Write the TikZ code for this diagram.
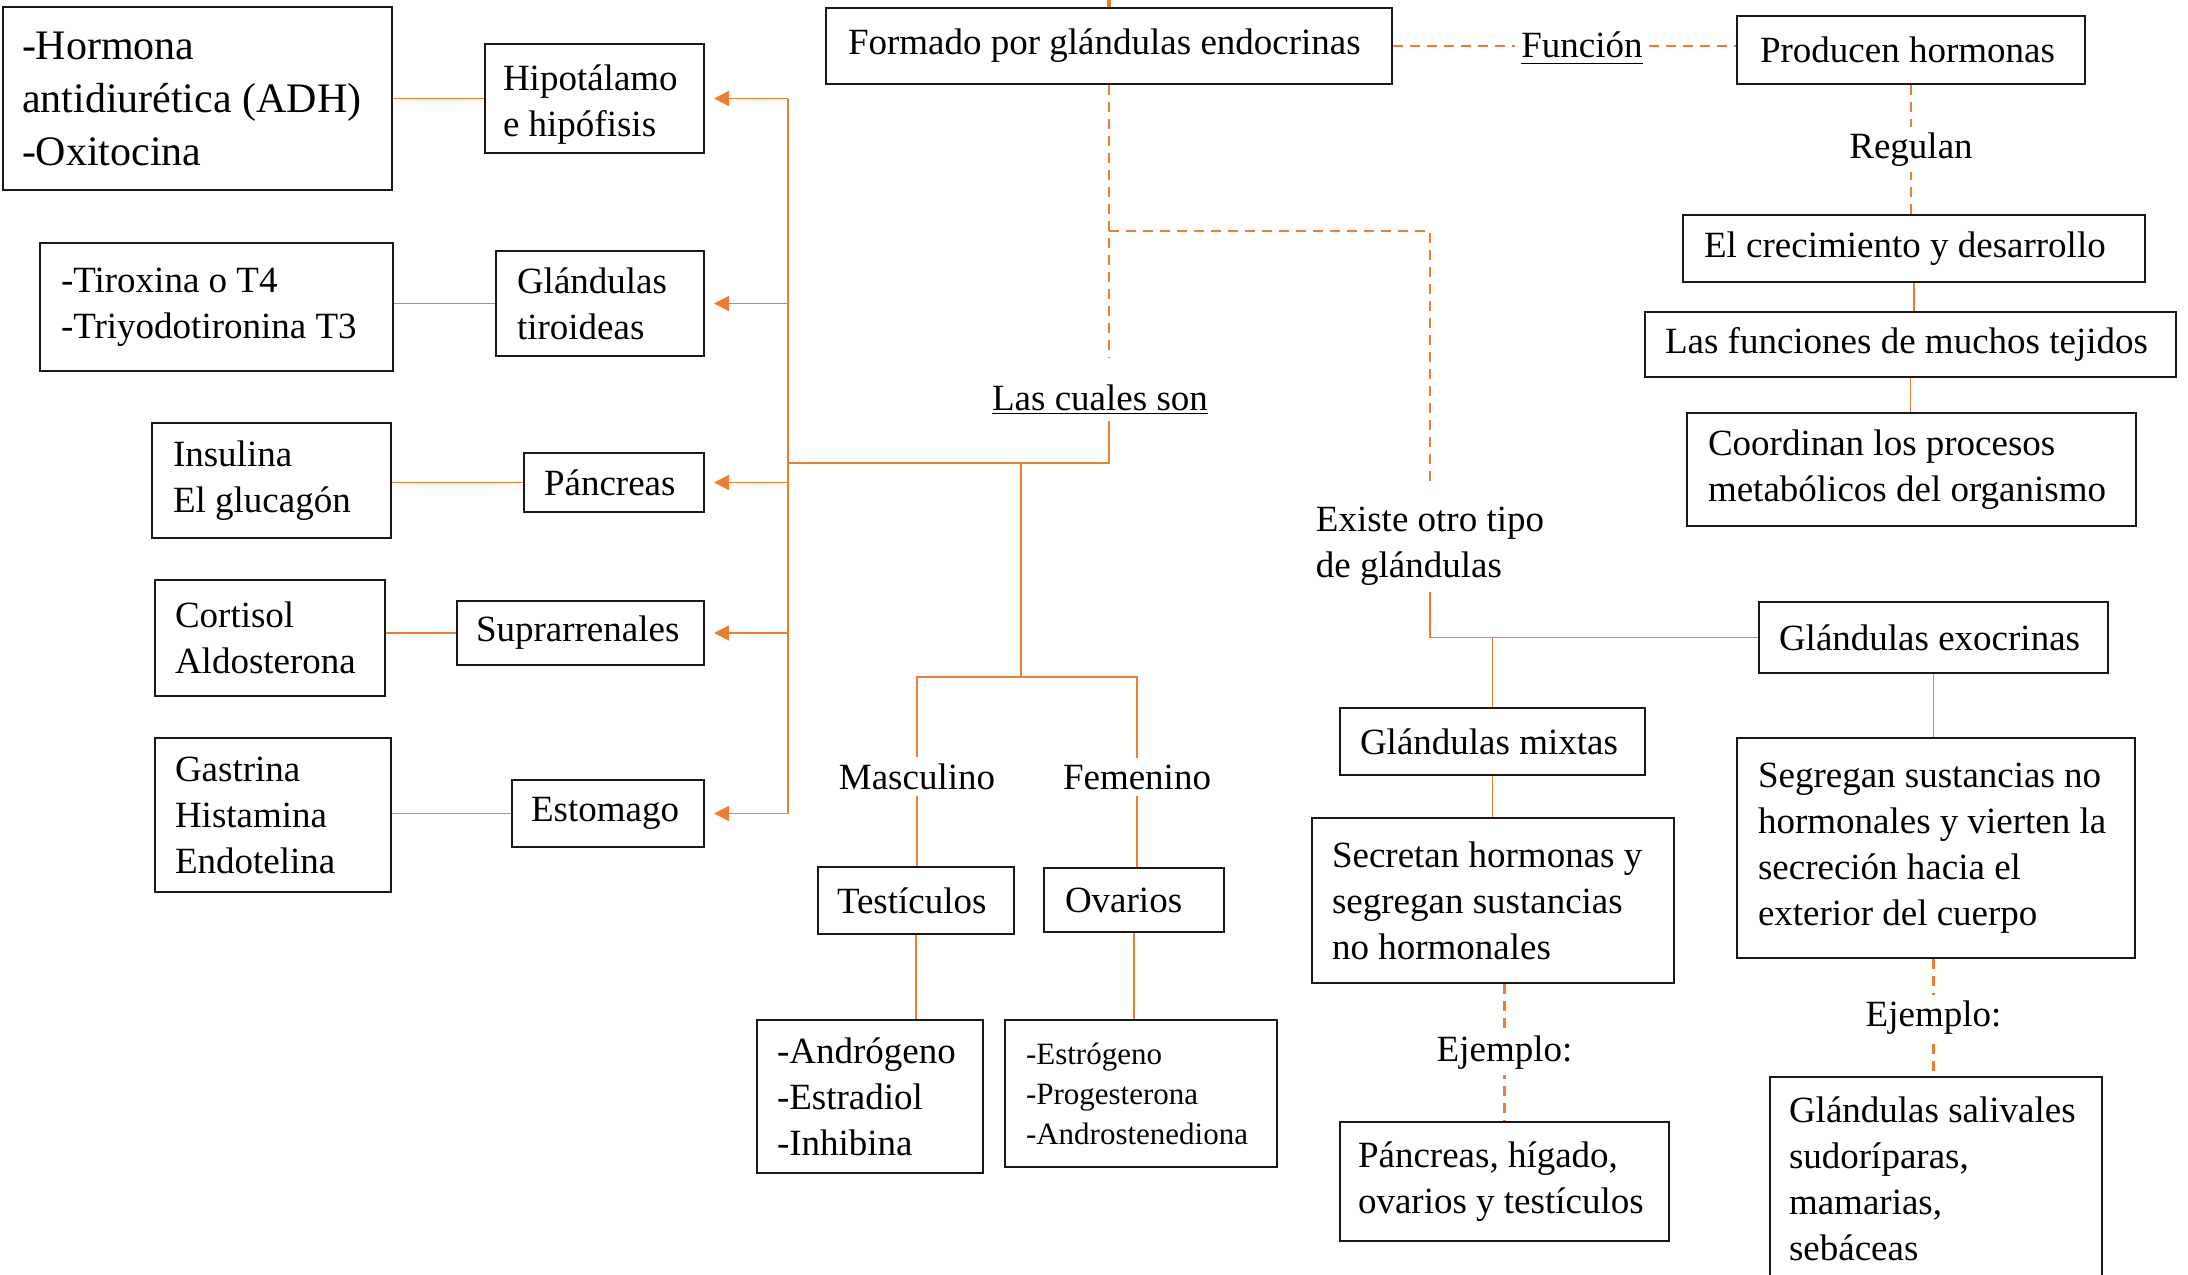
\documentclass[tikz,border=0pt]{standalone}
\usepackage{fontspec}
\setmainfont{Liberation Serif}
\usetikzlibrary{arrows.meta}
\definecolor{lineor}{RGB}{237,125,49}
\definecolor{boxln}{RGB}{25,25,25}
\newcommand\subray[1]{\underline{\raisebox{0pt}[\height][2pt]{#1}}}
\begin{document}
\begin{tikzpicture}[x=0.5pt,y=-0.5pt,
  txt/.style={font=\fontsize{18.5}{23}\selectfont, inner sep=3pt},
  gbox/.style n args={3}{txt, draw=boxln, line width=1pt, anchor=north west, align=flush left,
    inner xsep=#1, inner ysep=0pt, text width=#2, minimum height=#3},
  conn/.style={color=lineor, line width=0.75pt},
  dconn/.style={color=lineor, line width=1.1pt, dash pattern=on 5pt off 3.5pt},
  aconn/.style={conn, -{Triangle[length=7.5pt,width=7.5pt]}},
  lbl/.style={txt, fill=white, text=black}]
\useasboundingbox (0,0) rectangle (2188,1274);
% left column
\node[gbox={9.5pt}{175.5pt}{91.5pt}, font=\fontsize{21}{26.5}\selectfont] (adh) at (2,6) {-Hormona\\antidiurética (ADH)\\-Oxitocina};
\node[gbox={9pt}{91.5pt}{54.5pt}, text depth=21pt] (hipo) at (484,43) {Hipotálamo\\e hipófisis};
\node[gbox={10.5pt}{155.5pt}{64pt}] (tiro) at (39,242) {-Tiroxina o T4\\-Triyodotironina T3};
\node[gbox={10.5pt}{83pt}{52.5pt}] (tiroideas) at (495,250) {Glándulas\\tiroideas};
\node[gbox={10.5pt}{98.5pt}{57.5pt}] (insul) at (151,422) {Insulina\\El glucagón};
\node[gbox={10pt}{70pt}{29.5pt}] (panc) at (523,452) {Páncreas};
\node[gbox={10pt}{95pt}{58pt}] (cort) at (154,579) {Cortisol\\Aldosterona};
\node[gbox={9.5pt}{104.5pt}{32pt}] (supra) at (456,600) {Suprarrenales};
\node[gbox={10pt}{98pt}{77pt}] (gast) at (154,737) {Gastrina\\Histamina\\Endotelina};
\node[gbox={9.5pt}{77pt}{33.5pt}] (esto) at (511,779) {Estomago};
% top row
\node[gbox={11pt}{261pt}{38pt}] (formado) at (825,7) {Formado por glándulas endocrinas};
\node[txt, anchor=base] (funcion) at (1582,57) {\subray{Función}};
\node[gbox={11.5pt}{151pt}{34pt}] (prod) at (1736,15) {Producen hormonas};
\node[gbox={10.5pt}{210pt}{33.5pt}] (crec) at (1682,214) {El crecimiento y desarrollo};
\node[gbox={10pt}{245.5pt}{32.5pt}] (func) at (1644,311) {Las funciones de muchos tejidos};
\node[gbox={10.5pt}{203.5pt}{56.5pt}] (coord) at (1686,412) {Coordinan los procesos\\metabólicos del organismo};
% middle
\node[txt, anchor=base] (cuales) at (1100,410) {\underline{Las cuales son}};
\node[txt, anchor=base] (masc) at (917,789) {Masculino};
\node[txt, anchor=base] (fem) at (1137,789) {Femenino};
\node[gbox={9.5pt}{79pt}{33.5pt}] (test) at (817,866) {Testículos};
\node[gbox={10.5pt}{69pt}{32pt}] (ovar) at (1043,867) {Ovarios};
\node[gbox={10pt}{93pt}{76.5pt}] (andro) at (756,1019) {-Andrógeno\\-Estradiol\\-Inhibina};
\node[gbox={10.5pt}{115pt}{73.5pt}, font=\fontsize{15.5}{20}\selectfont] (estro) at (1004,1019) {-Estrógeno\\-Progesterona\\-Androstenediona};
% right part
\node[txt, align=flush left] (existe) at (1430,546) {Existe otro tipo\\de glándulas};
\node[gbox={10pt}{154.5pt}{35.5pt}] (exo) at (1758,601) {Glándulas exocrinas};
\node[gbox={10pt}{132.5pt}{33.5pt}] (mixtas) at (1339,707) {Glándulas mixtas};
\node[gbox={10pt}{161pt}{82.5pt}] (secr) at (1311,817) {Secretan hormonas y\\segregan sustancias\\no hormonales};
\node[gbox={9pt}{146.5pt}{59.5pt}] (pancr) at (1339,1121) {Páncreas, hígado,\\ovarios y testículos};
\node[gbox={10.5pt}{178pt}{110pt}] (segr) at (1736,737) {Segregan sustancias no\\hormonales y vierten la\\secreción hacia el\\exterior del cuerpo};
\node[gbox={9.5pt}{147pt}{0pt}, inner ysep=10pt] (saliv) at (1769,1076) {Glándulas salivales\\sudoríparas,\\mamarias,\\sebáceas};

\coordinate (bus) at (788,463);
\coordinate (split) at (1021,677);
\coordinate (fork) at ([yshift=-73pt]formado.south);
\coordinate (stub) at ([yshift=4pt]formado.north);

% dashed links
\draw[conn, line width=1.8pt] (formado.north) -- (stub);
\draw[dconn, shorten >=10pt] (formado.south) -- (formado.south |- cuales.north);
\draw[dconn, shorten >=7pt] (fork) -| (existe.north);
\draw[dconn] (formado.east) -- (formado.east -| funcion.west);
\draw[dconn] (funcion.east |- formado.east) -- (prod.west |- formado.east);
\draw[dconn] (prod.south) -- node[lbl] {Regulan} (prod.south |- crec.north);
\draw[dconn] (secr.south -| pancr.north) -- node[lbl] {Ejemplo:} (pancr.north);
\draw[dconn] (exo.south |- segr.south) -- node[lbl] {Ejemplo:} (exo.south |- saliv.north);

% solid links
\draw[conn] (crec.south) -- (crec.south |- func.north);
\draw[conn] (func.south) -- (func.south |- coord.north);
\draw[conn] (cuales.south -| formado.south) |- (bus);
\draw[conn] (bus |- hipo.east) -- (bus |- esto.east);
\draw[aconn] (bus |- hipo.east) -- ([xshift=4.5pt]hipo.east);
\draw[aconn] (bus |- tiroideas.east) -- ([xshift=4.5pt]tiroideas.east);
\draw[aconn] (bus |- panc.east) -- ([xshift=4.5pt]panc.east);
\draw[aconn] (bus |- supra.east) -- ([xshift=4.5pt]supra.east);
\draw[aconn] (bus |- esto.east) -- ([xshift=4.5pt]esto.east);
\draw[conn] (hipo.west -| adh.east) -- (hipo.west);
\draw[conn] (tiroideas.west -| tiro.east) -- (tiroideas.west);
\draw[conn] (panc.west -| insul.east) -- (panc.west);
\draw[conn] (supra.west -| cort.east) -- (supra.west);
\draw[conn] (esto.west -| gast.east) -- (esto.west);
\draw[conn] (split |- bus) -- (split);
\draw[conn] (masc.north) -- (masc.north |- split) -- (fem.north |- split) -- (fem.north);
\draw[conn] (masc.south) -- (masc.south |- test.north);
\draw[conn] (fem.south) -- (fem.south |- ovar.north);
\draw[conn] (test.south) -- (test.south |- andro.north);
\draw[conn] (ovar.south) -- (ovar.south |- estro.north);
\draw[conn] (existe.south) |- (exo.west);
\draw[conn] (mixtas.north) -- (mixtas.north |- exo.west);
\draw[conn] (mixtas.south) -- (mixtas.south |- secr.north);
\draw[conn] (exo.south) -- (exo.south |- segr.north);
\end{tikzpicture}
\end{document}
